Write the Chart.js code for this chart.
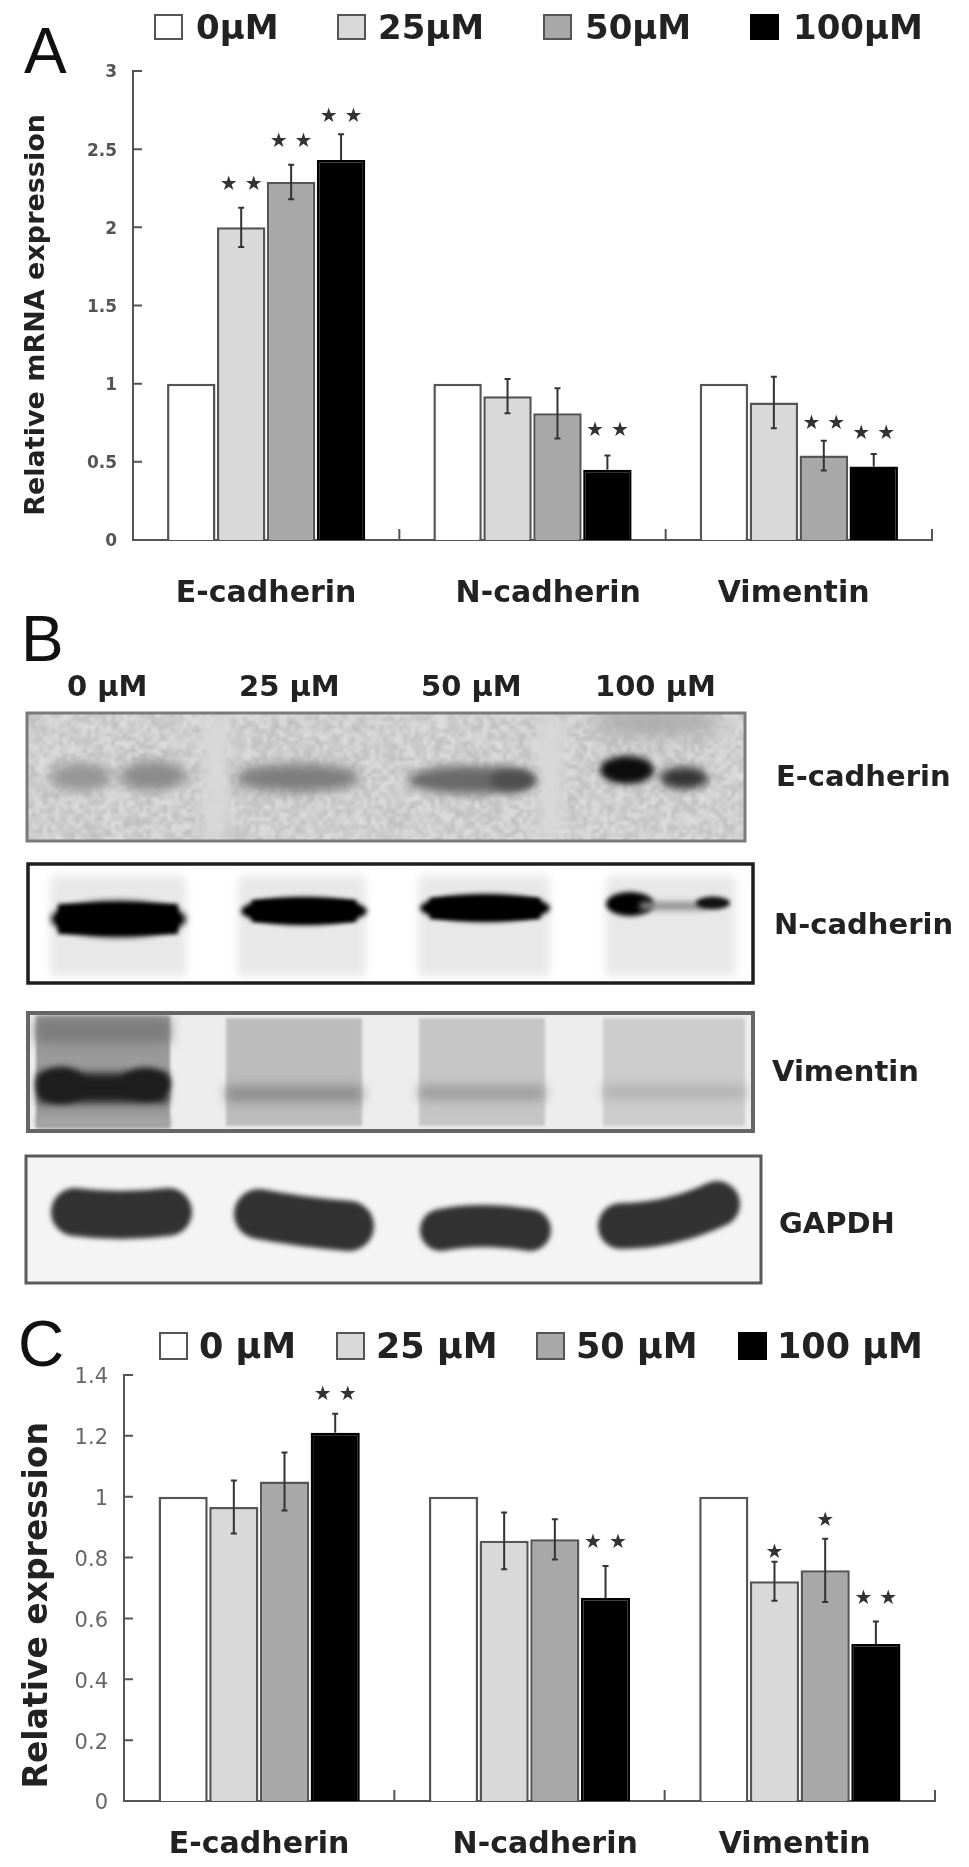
<!DOCTYPE html>
<html>
<head>
<meta charset="utf-8">
<script src="https://cdn.jsdelivr.net/npm/chart.js@4"></script>
<style>
  html, body { margin: 0; padding: 0; background: #fff; }
  #page { position: relative; width: 969px; height: 1867px; overflow: hidden; filter: blur(0.6px); }
  canvas { position: absolute; left: 0; }
  .t { position: absolute; white-space: pre; font-family: "DejaVu Sans", sans-serif; font-weight: bold; color: #222; line-height: 1; }
  .letter { font-family: "Liberation Sans", sans-serif; font-weight: normal; font-size: 64px; color: #111; }
  .box { position: absolute; border: 2px solid #555; box-sizing: border-box; }
</style>
</head>
<body>
<div id="page">
  <canvas id="chartA" width="969" height="620" style="top:0"></canvas>
  <canvas id="blots" width="969" height="680" style="top:620px"></canvas>
  <canvas id="chartC" width="969" height="567" style="top:1300px"></canvas>
</div>
<script>
const categories = ['E-cadherin', 'N-cadherin', 'Vimentin'];
const doseColors = ['#ffffff', '#d9d9d9', '#a8a8a8', '#000000'];

// panel A, mRNA
const legendA = ['0µM', '25µM', '50µM', '100µM'];
const mrna0 = [1, 1, 1];
const mrna25 = [2.0, 0.92, 0.88];
const mrna50 = [2.29, 0.81, 0.54];
const mrna100 = [2.43, 0.45, 0.47];
const mrna25Err = [0.125, 0.11, 0.165];
const mrna50Err = [0.11, 0.16, 0.095];
const mrna100Err = [0.165, 0.09, 0.08];
const mrna25Stars = [2.27, null, null];
const mrna50Stars = [2.55, null, 0.745];
const mrna100Stars = [2.71, 0.70, 0.68];
const ticksA = [0, 0.5, 1, 1.5, 2, 2.5, 3];

// panel C, protein
const legendC = ['0 µM', '25 µM', '50 µM', '100 µM'];
const prot0 = [1, 1, 1];
const prot25 = [0.966, 0.855, 0.722];
const prot50 = [1.05, 0.86, 0.758];
const prot100 = [1.21, 0.667, 0.516];
const prot25Err = [0.087, 0.093, 0.064];
const prot50Err = [0.095, 0.066, 0.104];
const prot100Err = [0.063, 0.105, 0.074];
const prot25Stars = [null, null, 0.815];
const prot50Stars = [null, null, 0.92];
const prot100Stars = [1.335, 0.849, 0.663];
const prot25Marks = ['', '', '★'];
const prot50Marks = ['', '', '★'];
const ticksC = [0, 0.2, 0.4, 0.6, 0.8, 1, 1.2, 1.4];

// panel B labels
const laneLabels = ['0 µM', '25 µM', '50 µM', '100 µM'];
const blotLabels = ['E-cadherin', 'N-cadherin', 'Vimentin', 'GAPDH'];

// error bars, stars and the inward ticks
const extras = {
  id: 'extras',
  afterDatasetsDraw(chart) {
    const { ctx, scales: { x, y }, chartArea } = chart;
    ctx.save();
    chart.data.datasets.forEach((ds, d) => {
      const meta = chart.getDatasetMeta(d);
      meta.data.forEach((bar, i) => {
        if (ds.errors) {
          const hi = y.getPixelForValue(ds.data[i] + ds.errors[i]);
          const lo = y.getPixelForValue(ds.data[i] - ds.errors[i]);
          ctx.strokeStyle = '#333';
          ctx.lineWidth = 2;
          ctx.beginPath();
          ctx.moveTo(bar.x, hi);
          // lower half disappears inside the black bars
          ctx.lineTo(bar.x, d === 3 ? bar.y : lo);
          ctx.moveTo(bar.x - 3, hi); ctx.lineTo(bar.x + 3, hi);
          if (d !== 3) { ctx.moveTo(bar.x - 3, lo); ctx.lineTo(bar.x + 3, lo); }
          ctx.stroke();
        }
        if (ds.stars && ds.stars[i] !== null) {
          ctx.fillStyle = '#333';
          ctx.font = 'bold 20px "DejaVu Sans"';
          ctx.textAlign = 'center';
          ctx.textBaseline = 'middle';
          ctx.fillText(ds.marks ? ds.marks[i] : '★ ★', bar.x, y.getPixelForValue(ds.stars[i]));
        }
      });
    });
    ctx.strokeStyle = '#555';
    ctx.lineWidth = 2;
    ctx.beginPath();
    y.ticks.forEach(t => {
      const py = y.getPixelForValue(t.value);
      ctx.moveTo(chartArea.left, py); ctx.lineTo(chartArea.left + 9, py);
    });
    const step = chartArea.width / categories.length;
    categories.forEach((c, i) => {
      const px = chartArea.left + step * (i + 1);
      ctx.moveTo(px, chartArea.bottom); ctx.lineTo(px, chartArea.bottom - 11);
    });
    ctx.stroke();
    ctx.restore();
  }
};

function makeBarChart(id, opts) {
  return new Chart(document.getElementById(id), {
    type: 'bar',
    plugins: [extras],
    data: {
      labels: categories,
      datasets: opts.series.map((s, i) => ({
        label: opts.legend[i],
        data: s.data,
        errors: s.errors,
        stars: s.stars,
        marks: s.marks,
        backgroundColor: doseColors[i],
        borderColor: i === 3 ? '#000' : '#555',
        borderWidth: 2.5,
        categoryPercentage: 0.75,
        barPercentage: 0.97
      }))
    },
    options: {
      responsive: false,
      animation: false,
      layout: { padding: { top: opts.top, right: opts.right } },
      plugins: { legend: { display: false }, tooltip: { enabled: false } },
      scales: {
        x: {
          afterFit: s => { s.height = opts.xHeight; },
          grid: { display: false, drawTicks: false },
          border: { color: '#555', width: 2 },
          ticks: {
            color: '#222', padding: opts.xPad, maxRotation: 0,
            font: { family: 'DejaVu Sans', weight: 'bold', size: opts.xSize },
            // labels in the figure sit a bit off the group centres
            callback: (v, i) => ['', '\u00a0\u00a0\u00a0', ''][i] + categories[i] + ['', '', '\u00a0'][i]
          }
        },
        y: {
          min: 0, max: opts.ticks[opts.ticks.length - 1],
          afterFit: s => { s.width = opts.left; },
          afterBuildTicks: s => { s.ticks = opts.ticks.map(v => ({ value: v })); },
          grid: { display: false, drawTicks: false },
          border: { color: '#555', width: 2 },
          title: {
            display: true, text: opts.yTitle + opts.titleNudge, color: '#222',
            font: { family: 'DejaVu Sans', weight: 'bold', size: opts.titleSize },
            padding: { top: opts.titlePad, bottom: 0 }
          },
          ticks: {
            color: opts.tickColor, padding: opts.yPad, labelOffset: opts.tickShift,
            font: { family: 'DejaVu Sans', weight: opts.tickWeight, size: opts.tickSize },
            callback: v => String(v)
          }
        }
      }
    }
  });
}

makeBarChart('chartA', {
  legend: legendA, ticks: ticksA, yTitle: 'Relative mRNA expression', titleNudge: '\u00a0\u00a0',
  top: 71, right: 37, left: 133, xHeight: 80, xPad: 36, xSize: 30, yPad: 16, tickShift: 2,
  titleSize: 27, titlePad: 21, tickColor: '#555', tickWeight: 'bold', tickSize: 17,
  series: [
    { data: mrna0 },
    { data: mrna25, errors: mrna25Err, stars: mrna25Stars },
    { data: mrna50, errors: mrna50Err, stars: mrna50Stars },
    { data: mrna100, errors: mrna100Err, stars: mrna100Stars }
  ]
});

makeBarChart('chartC', {
  legend: legendC, ticks: ticksC, yTitle: 'Relative expression', titleNudge: '\u00a0\u00a0\u00a0',
  top: 75, right: 34, left: 124, xHeight: 66, xPad: 26, xSize: 30, yPad: 16, tickShift: 3,
  titleSize: 33, titlePad: 19, tickColor: '#666', tickWeight: 'normal', tickSize: 21,
  series: [
    { data: prot0 },
    { data: prot25, errors: prot25Err, stars: prot25Stars, marks: prot25Marks },
    { data: prot50, errors: prot50Err, stars: prot50Stars, marks: prot50Marks },
    { data: prot100, errors: prot100Err, stars: prot100Stars }
  ]
});

// html text and legends
const page = document.getElementById('page');
function text(str, x, y, size, cls) {
  const el = document.createElement('div');
  el.className = cls ? 't ' + cls : 't';
  el.textContent = str;
  el.style.left = x + 'px';
  el.style.top = y + 'px';
  if (size) el.style.fontSize = size + 'px';
  page.appendChild(el);
}
function legendRow(labels, boxXs, textXs, top, boxH, size, textTop) {
  labels.forEach((l, i) => {
    const box = document.createElement('div');
    box.className = 'box';
    box.style.cssText = `left:${boxXs[i]}px;top:${top}px;width:29px;height:${boxH}px;background:${doseColors[i]};` +
      (i === 3 ? 'border-color:#000' : '');
    page.appendChild(box);
    text(l, textXs[i], textTop, size);
  });
}
text('A', 24, 19, null, 'letter');
text('B', 21, 607, null, 'letter');
text('C', 18, 1312, null, 'letter');
legendRow(legendA, [154, 337, 543, 750], [196, 378, 585, 793], 14, 26, 34, 10);
legendRow(legendC, [159, 336, 536, 738], [199, 376, 576, 777], 1332, 28, 35, 1329);
[67, 239, 421, 595].forEach((x, i) => text(laneLabels[i], x, 672, 29));
[[776, 762], [774, 910], [772, 1057], [779, 1209]].forEach((p, i) => text(blotLabels[i], p[0], p[1], 29));

// panel B, western blot images
const b = document.getElementById('blots').getContext('2d');
const top0 = 620;
function blob(x, y, w, h, color, blur) {
  b.save();
  b.filter = `blur(${blur}px)`;
  b.fillStyle = color;
  b.beginPath();
  b.ellipse(x + w / 2, y - top0, w / 2, h / 2, 0, 0, Math.PI * 2);
  b.fill();
  b.restore();
}
function rect(x, y, w, h, color, blur) {
  b.save();
  if (blur) b.filter = `blur(${blur}px)`;
  b.fillStyle = color;
  b.fillRect(x, y - top0, w, h);
  b.restore();
}
function slab(x1, y1, cx, cy, x2, y2, h, color) {
  b.save();
  b.filter = 'blur(2.5px)';
  b.strokeStyle = color;
  b.lineWidth = h;
  b.lineCap = 'round';
  b.beginPath();
  b.moveTo(x1 + h / 2, y1 - top0);
  b.quadraticCurveTo(cx, cy - top0, x2 - h / 2, y2 - top0);
  b.stroke();
  b.restore();
}
// clip the blurry bands to their panel, then draw the frame on top
function panel(x, y, w, h, color, lw, draw) {
  b.save();
  b.beginPath();
  b.rect(x, y - top0, w, h);
  b.clip();
  draw();
  b.restore();
  b.strokeStyle = color;
  b.lineWidth = lw;
  b.strokeRect(x, y - top0, w, h);
}
// film grain for the E-cadherin blot, a fixed texture, softened by drawing it blurred
function grain(x, y, w, h) {
  const c = document.createElement('canvas');
  c.width = w; c.height = h;
  const g = c.getContext('2d');
  for (let gx = 0; gx < w; gx += 4) {
    for (let gy = 0; gy < h; gy += 4) {
      const s = Math.sin(gx * 12.9898 + gy * 78.233) * 43758.5453;
      const shade = 190 + Math.floor((s - Math.floor(s)) * 34);
      g.fillStyle = `rgb(${shade},${shade},${shade})`;
      g.fillRect(gx, gy, 4, 4);
    }
  }
  b.save();
  b.filter = 'blur(1.5px)';
  b.drawImage(c, x, y - top0);
  b.restore();
}

// E-cadherin
panel(27, 713, 718, 128, '#7a7a7a', 3, () => {
  rect(27, 713, 718, 128, '#d0d0d0');
  grain(27, 713, 718, 128);
  rect(205, 716, 22, 122, '#d8d8d8', 6);
  rect(540, 716, 22, 122, '#d8d8d8', 6);
  blob(590, 722, 130, 30, '#ababab', 10);
  blob(50, 777, 62, 28, '#959595', 6);
  blob(120, 776, 66, 30, '#8a8a8a', 6);
  blob(235, 778, 126, 28, '#7c7c7c', 6);
  blob(408, 780, 126, 28, '#6a6a6a', 5);
  blob(490, 780, 46, 22, '#4e4e4e', 4);
  blob(600, 770, 54, 28, '#0c0c0c', 3.5);
  blob(660, 778, 48, 22, '#363636', 4);
});

// N-cadherin
panel(28, 864, 725, 119, '#1e1e1e', 3.5, () => {
  rect(28, 864, 725, 119, '#ffffff');
  [[50, 136], [238, 128], [418, 132], [606, 130]].forEach(p => rect(p[0], 876, p[1], 100, '#e8e8e8', 5));
  blob(51, 919, 135, 36, '#000', 3);
  rect(58, 904, 120, 30, '#000', 2);
  blob(241, 911, 126, 28, '#000', 2.5);
  rect(252, 900, 104, 22, '#000', 2);
  blob(420, 908, 130, 28, '#000', 2.5);
  rect(430, 898, 110, 21, '#000', 2);
  blob(606, 904, 48, 24, '#000', 2.5);
  rect(640, 902, 66, 8, '#8a8a8a', 3);
  blob(696, 903, 34, 13, '#111', 2);
});

// Vimentin
panel(28, 1013, 725, 118, '#666', 4, () => {
  rect(28, 1012, 725, 119, '#ededed');
  rect(36, 1016, 134, 112, '#9a9a9a', 1.5);
  rect(226, 1018, 136, 108, '#bcbcbc', 1.5);
  rect(419, 1018, 126, 108, '#c6c6c6', 1.5);
  rect(603, 1018, 142, 108, '#cdcdcd', 1.5);
  rect(36, 1018, 134, 25, '#7c7c7c', 6);
  rect(36, 1118, 134, 8, '#a8a8a8', 3);
  rect(38, 1073, 130, 30, '#1e1e1e', 4);
  blob(36, 1085, 50, 36, '#1e1e1e', 3);
  blob(120, 1084, 50, 32, '#1e1e1e', 3);
  rect(226, 1086, 136, 16, '#8c8c8c', 6);
  rect(419, 1086, 126, 14, '#9a9a9a', 6);
  rect(603, 1086, 142, 12, '#adadad', 6);
});

// GAPDH
panel(26, 1156, 735, 127, '#5a5a5a', 3, () => {
  rect(26, 1156, 735, 127, '#f4f4f4');
  slab(51, 1212, 120, 1218, 192, 1212, 48, '#323232');
  slab(234, 1214, 300, 1222, 374, 1226, 50, '#323232');
  slab(420, 1230, 480, 1222, 551, 1230, 42, '#323232');
  slab(598, 1226, 670, 1226, 740, 1204, 46, '#323232');
});
</script>
</body>
</html>
